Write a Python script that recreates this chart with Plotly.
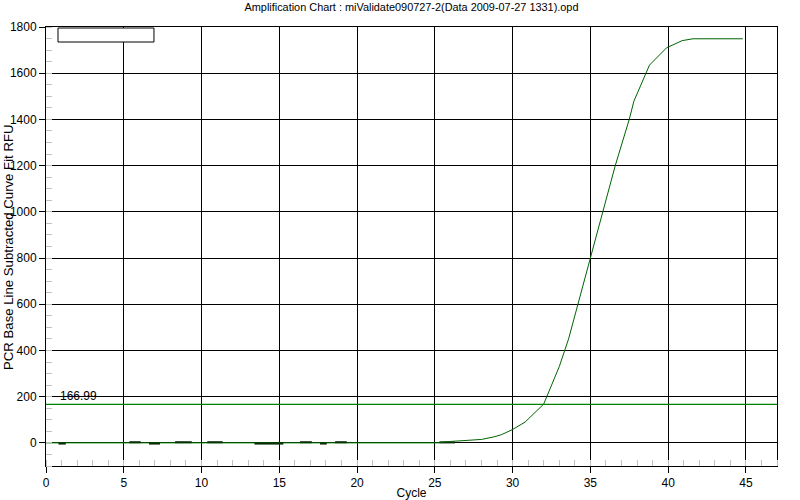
import plotly.graph_objects as go

# ---- data ----
title_text = "Amplification Chart : miValidate090727-2(Data 2009-07-27 1331).opd"
x_title = "Cycle"
y_title = "PCR Base Line Subtracted Curve Fit RFU"

curve_cycles = [25.3, 26.4, 27.4, 28.0, 28.8, 29.3, 30.0, 30.8, 32.0, 33.0, 33.6,
                34.2, 35.0, 35.8, 36.6, 37.5, 37.8, 38.8, 39.9, 40.9, 41.6, 44.8]
curve_rfu = [3, 7, 11, 15, 26, 36, 58, 90, 168, 330, 450,
             603, 798, 1000, 1200, 1400, 1479, 1635, 1710, 1741, 1749, 1749]

baseline_cycles = [0, 25.3]
baseline_rfu = [0, 0]

noise_cycles = [0.8, 1.27, None, 5.36, 6.09, None, 6.62, 7.33, None, 8.3, 9.37, None,
                10.37, 11.36, None, 13.4, 15.26, None, 16.33, 17.09, None,
                17.62, 18.05, None, 18.59, 19.34, None, 25.3, 26.3]
noise_rfu = [-3, -3, None, 3, 3, None, -3, -3, None, 3, 3, None,
             3, 3, None, -3, -3, None, 3, 3, None,
             -3, -3, None, 3, 3, None, 2, 2]

threshold = 166.99
threshold_label = "166.99"

x_range = [0, 47]
y_range = [-100, 1800]

FONT = "Liberation Sans, Arial, sans-serif"
GREEN = "#008000"

fig = go.Figure()

fig.add_trace(go.Scatter(x=baseline_cycles, y=baseline_rfu, mode="lines",
                         line=dict(color=GREEN, width=1), hoverinfo="skip"))
fig.add_trace(go.Scatter(x=noise_cycles, y=noise_rfu, mode="lines",
                         line=dict(color="#0b2e0b", width=2), connectgaps=False,
                         hoverinfo="skip"))
fig.add_trace(go.Scatter(x=curve_cycles, y=curve_rfu, mode="lines",
                         line=dict(color="#006400", width=1)))

# threshold line
fig.add_hline(y=threshold, line=dict(color=GREEN, width=1.3))
fig.add_annotation(x=0.75, y=threshold, xref="x", yref="y", text=threshold_label,
                   showarrow=False, xanchor="left", yanchor="bottom", yshift=-1,
                   font=dict(family=FONT, size=12, color="black"))

# y-axis title as rotated text
fig.add_annotation(x=-0.0513, y=0.5, xref="paper", yref="paper", text=y_title,
                   showarrow=False, textangle=-90, xanchor="center", yanchor="middle",
                   borderpad=0,
                   font=dict(family=FONT, size=13.2, color="black"))

# empty legend box
fig.add_shape(type="rect", xref="paper", yref="paper",
              x0=0.0164, x1=0.1477, y0=0.9658, y1=0.9977,
              line=dict(color="black", width=1), fillcolor="white")

fig.update_layout(
    width=800, height=500,
    margin=dict(l=46, r=23, t=27, b=34, autoexpand=False),
    paper_bgcolor="white", plot_bgcolor="white",
    showlegend=False,
    font=dict(family=FONT, size=12, color="black"),
    title=dict(text=title_text, x=0.5, xref="paper", y=0.986, yanchor="middle",
               font=dict(family=FONT, size=10.9, color="black")),
)

fig.update_xaxes(
    range=x_range, dtick=5, tick0=0, automargin=False,
    showgrid=True, gridcolor="black", gridwidth=1,
    zeroline=False,
    showline=True, linecolor="black", linewidth=1, mirror=True,
    ticks="outside", ticklen=6, tickcolor="black",
    tickfont=dict(family=FONT, size=12),
    minor=dict(dtick=1, ticks="inside", ticklen=6, tickcolor="#c0c0c0", showgrid=False),
    title=dict(text=x_title, standoff=2, font=dict(family=FONT, size=12)),
)
fig.update_yaxes(
    range=y_range, dtick=200, tick0=0, automargin=False,
    showgrid=True, gridcolor="black", gridwidth=1,
    zeroline=False,
    showline=True, linecolor="black", linewidth=1, mirror=True,
    ticks="outside", ticklen=6, tickcolor="black",
    tickfont=dict(family=FONT, size=12),
    minor=dict(dtick=50, ticks="inside", ticklen=6, tickcolor="#c0c0c0", showgrid=False),
)

fig.write_html(
    "out.html",
    config={"displayModeBar": False},
    post_script="document.body.style.margin='0';document.body.style.overflow='hidden';",
)
